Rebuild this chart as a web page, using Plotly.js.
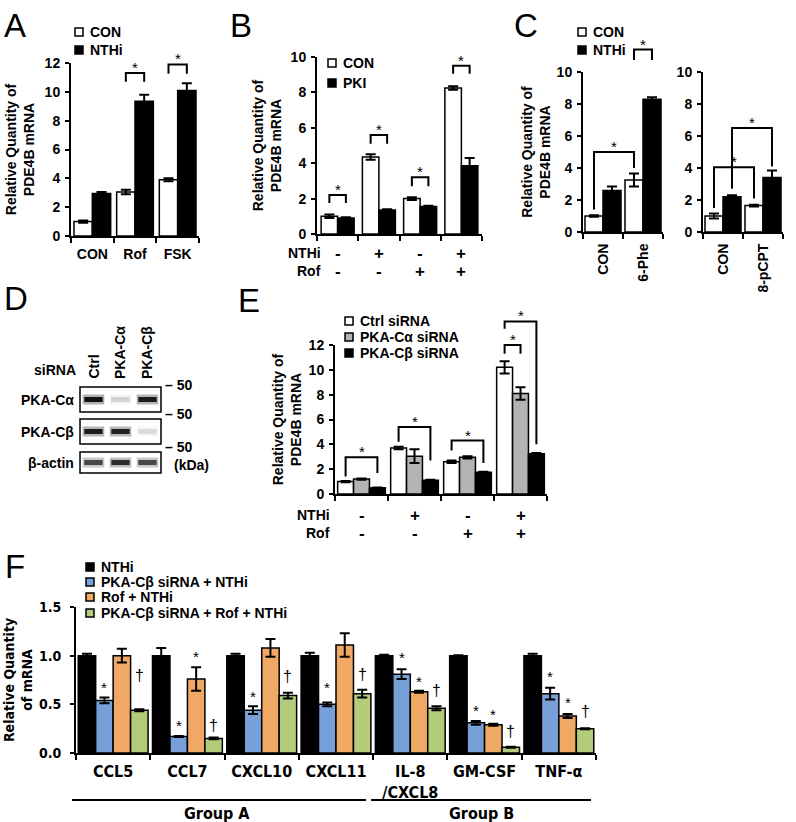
<!DOCTYPE html>
<html><head><meta charset="utf-8">
<script src="https://cdn.plot.ly/plotly-3.0.1.min.js"></script>
<style>html,body{margin:0;padding:0;background:#fff}#g{width:796px;height:822px}</style>
</head><body><div id="g"></div><script>
// ---------------- DATA ----------------
const A_cats = ['CON','Rof','FSK'];
const A_con = [1.0, 3.05, 3.9];
const A_con_err = [0.08, 0.15, 0.1];
const A_nthi = [2.95, 9.35, 10.1];
const A_nthi_err = [0.1, 0.45, 0.5];
// brackets: [cat0, bar0, leg0, cat1, bar1, leg1, top]
const A_brk = [[1,0,10.7,1,1,10.7,11.3],[2,0,11.25,2,1,11.25,11.9]];

const B_nthi = ['-','+','-','+'];
const B_rof = ['-','-','+','+'];
const B_con = [1.0, 4.35, 2.0, 8.25];
const B_con_err = [0.1, 0.15, 0.08, 0.1];
const B_pki = [0.9, 1.35, 1.55, 3.85];
const B_pki_err = [0.05, 0.05, 0.05, 0.45];
const B_brk = [[0,0,1.75,0,1,1.75,2.2],[1,0,5.1,1,1,5.1,5.6],[2,0,2.7,2,1,2.7,3.2],[3,0,9.05,3,1,9.05,9.5]];

const C1_cats = ['CON','6-Phe'];
const C1_con = [1.0, 3.25];
const C1_con_err = [0.05, 0.4];
const C1_nthi = [2.6, 8.3];
const C1_nthi_err = [0.25, 0.12];
const C1_brk = [[0,0,1.4,1,0,4.0,5.0],[1,0,10.75,1,1,10.75,11.4]];
const C2_cats = ['CON','8-pCPT'];
const C2_con = [1.0, 1.65];
const C2_con_err = [0.15, 0.05];
const C2_nthi = [2.2, 3.4];
const C2_nthi_err = [0.1, 0.45];
const C2_brk = [[0,0,1.5,1,0,2.1,4.05],[0,1,2.7,1,1,4.1,6.5]];

const E_nthi = ['-','+','-','+'];
const E_rof = ['-','-','+','+'];
const E_ctrl = [1.0, 3.7, 2.6, 10.2];
const E_ctrl_err = [0.05, 0.1, 0.1, 0.5];
const E_ca = [1.2, 3.05, 2.95, 8.1];
const E_ca_err = [0.05, 0.55, 0.1, 0.5];
const E_cb = [0.5, 1.1, 1.75, 3.25];
const E_cb_err = [0.03, 0.05, 0.05, 0.05];
const E_brk = [[0,0,1.4,0,2,1.7,2.96],[1,0,4.2,1,2,2.7,5.4],[2,0,3.5,2,2,2.5,4.3],[3,0,11.3,3,1,11.3,12.0],[3,0,13.3,3,2,4.0,13.9]];

const F_genes = ['CCL5','CCL7','CXCL10','CXCL11','IL-8<br>/CXCL8','GM-CSF','TNF-α'];
const F_nthi = [1.0, 1.0, 1.0, 1.0, 1.0, 1.0, 1.0];
const F_nthi_err = [0.02, 0.08, 0.02, 0.03, 0.01, 0.005, 0.02];
const F_cb = [0.54, 0.17, 0.44, 0.50, 0.81, 0.31, 0.61];
const F_cb_err = [0.03, 0.005, 0.04, 0.02, 0.05, 0.02, 0.06];
const F_rof = [1.0, 0.76, 1.08, 1.11, 0.63, 0.29, 0.38];
const F_rof_err = [0.07, 0.12, 0.09, 0.12, 0.01, 0.01, 0.02];
const F_cbrof = [0.44, 0.15, 0.59, 0.61, 0.46, 0.06, 0.25];
const F_cbrof_err = [0.01, 0.01, 0.03, 0.04, 0.02, 0.005, 0.005];
const F_star_cb = [0.71, 0.32, 0.62, 0.71, 1.02, 0.48, 0.83];
const F_star_rof = [null, 1.03, null, null, 0.78, 0.44, 0.56];
const F_dagger = [0.80, 0.28, 0.79, 0.81, 0.64, 0.22, 0.43];
const F_names = ['NTHi','PKA-Cβ siRNA + NTHi','Rof + NTHi','PKA-Cβ siRNA + Rof + NTHi'];
const F_colors = ['#000000','#78a0d8','#f0a865','#b3cc7a'];
const F_groups = ['Group A','Group B'];

const blot_lanes = ['Ctrl','PKA-Cα','PKA-Cβ'];
const blot_rows = ['PKA-Cα','PKA-Cβ','β-actin'];
const blot_int = [[1.0,0.15,0.95],[0.95,0.92,0.12],[0.72,0.85,0.72]];

// ---------------- LAYOUT HELPERS ----------------
const W=796, H=822;
const fx = p => p/W, fy = p => 1 - p/H;
const FONT = 'Liberation Sans, Arial, sans-serif';
const NARROW = 'Liberation Sans Narrow, DejaVu Sans Condensed, Arial Narrow, sans-serif';
const traces = [];
const layout = {width:W, height:H, margin:{l:0,r:0,t:0,b:0}, paper_bgcolor:'white', plot_bgcolor:'rgba(0,0,0,0)',
  barmode:'overlay', showlegend:false, font:{family:FONT, color:'black'}, annotations:[], shapes:[]};
const PANELS = {};

function axName(i){return i===1?'':String(i);}
function addPanel(i, c){
  PANELS[i]=c;
  const n=c.n, idx=[...Array(n).keys()], bounds=[...Array(n+1).keys()].map(k=>k-0.5);
  layout['xaxis'+axName(i)] = {domain:[fx(c.x[0]),fx(c.x[1])], range:[-0.5,n-0.5], anchor:'y'+axName(i),
    showline:true, linewidth:2, linecolor:'black', showgrid:false, zeroline:false, fixedrange:true,
    tickmode:'array', tickvals:idx, ticktext:c.labels||idx.map(()=>''), showticklabels:!!c.labels, ticks:'',
    tickangle:c.tickangle||0, ticklabelstandoff:c.xstand||0,
    tickfont:{family:c.xfont||FONT, size:c.xsize||14, weight:'bold', color:'black'},
    minor:{tickmode:'array', tickvals:bounds, ticks:'outside', ticklen:5, tickwidth:2, tickcolor:'black'}};
  const ya = {domain:[fy(c.y[1]),fy(c.y[0])], range:[0,c.ymax], anchor:'x'+axName(i),
    showline:true, linewidth:2, linecolor:'black', showgrid:false, zeroline:false, fixedrange:true,
    ticks:'outside', ticklen:4, tickwidth:2, tickcolor:'black', tick0:0, dtick:c.dtick, tickformat:c.tfmt||'',
    ticklabelstandoff:c.ystand||2, tickfont:{family:c.yfont||FONT, size:14, weight:'bold', color:'black'}};
  if(c.ytitle) ya.title = {text:c.ytitle, font:{family:c.yfont||FONT, size:14, weight:'bold', color:'black'}, standoff:c.tstand||8};
  layout['yaxis'+axName(i)] = ya;
}
// data -> pixel through the panel's own axis mapping
function pxX(i,v){const c=PANELS[i]; return c.x[0]+(v+0.5)/c.n*(c.x[1]-c.x[0]);}
function pxY(i,v){const c=PANELS[i]; return c.y[1]-v/c.ymax*(c.y[1]-c.y[0]);}
function barCenter(cat,k,ns,gap){const w=(1-gap)/ns; return cat-(1-gap)/2+w*(k+0.5);}
function addBars(i, series, gap){
  const ns=series.length, w=(1-gap)/ns;
  series.forEach((s,k)=>{
    traces.push({type:'bar', x:s.y.map((_,j)=>j), y:s.y, width:w, offset:-(1-gap)/2+w*k,
      xaxis:'x'+axName(i), yaxis:'y'+axName(i), name:s.name, hoverinfo:'skip',
      marker:{color:s.color, line:{color:'black', width:1.5}},
      error_y:{type:'data', array:s.err, visible:true, color:'black', thickness:2, width:5}});
  });
}
function addBrackets(i, brk, ns, gap){
  brk.forEach(b=>{
    const x0=pxX(i,barCenter(b[0],b[1],ns,gap)), x1=pxX(i,barCenter(b[3],b[4],ns,gap));
    const yl0=pxY(i,b[2]), yt=pxY(i,b[6]), yl1=pxY(i,b[5]);
    layout.shapes.push({type:'path', xref:'paper', yref:'paper',
      path:`M${fx(x0)},${fy(yl0)}L${fx(x0)},${fy(yt)}L${fx(x1)},${fy(yt)}L${fx(x1)},${fy(yl1)}`,
      line:{color:'black', width:2}});
    layout.annotations.push({xref:'paper', yref:'paper', x:fx((x0+x1)/2), y:fy(yt), text:'*',
      showarrow:false, xanchor:'center', yanchor:'bottom', yshift:-5, font:{size:15, color:'black'}});
  });
}
function addLegend(x, ys, names, fills, size){
  names.forEach((nm,k)=>{
    layout.shapes.push({type:'rect', xref:'paper', yref:'paper', x0:fx(x), x1:fx(x+8), y0:fy(ys[k]+4), y1:fy(ys[k]-4),
      fillcolor:fills[k], line:{color:'black', width:1.5}});
    layout.annotations.push({xref:'paper', yref:'paper', x:fx(x+13), y:fy(ys[k]), text:nm, showarrow:false,
      xanchor:'left', yanchor:'middle', font:{size:size||14, weight:'bold', color:'black'}});
  });
}
function addRows(i, labelX, rowYs, rowNames, rowVals){
  rowNames.forEach((nm,r)=>{
    layout.annotations.push({xref:'paper', yref:'paper', x:fx(labelX), y:fy(rowYs[r]), text:nm, showarrow:false,
      xanchor:'right', yanchor:'middle', font:{size:14, weight:'bold', color:'black'}});
    rowVals[r].forEach((v,j)=>layout.annotations.push({xref:'x'+axName(i), yref:'paper', x:j, y:fy(rowYs[r]),
      text:v, showarrow:false, xanchor:'center', yanchor:'middle', font:{size:17, weight:'bold', color:'black'}}));
  });
}
function letter(t,x,y){layout.annotations.push({xref:'paper', yref:'paper', x:fx(x), y:fy(y), text:t, showarrow:false,
  xanchor:'left', yanchor:'middle', font:{family:FONT, size:33, color:'black'}});}

const YT = 'Relative Quantity of<br>PDE4B mRNA';
// ---------------- PANEL A ----------------
addPanel(1,{x:[71,199], y:[63,236], n:3, ymax:12, dtick:2, labels:A_cats, xstand:4, ytitle:YT, tstand:7});
addBars(1,[{y:A_con,err:A_con_err,color:'white',name:'CON'},{y:A_nthi,err:A_nthi_err,color:'black',name:'NTHi'}],0.14);
addBrackets(1,A_brk,2,0.14);
addLegend(75,[32,50],['CON','NTHi'],['white','black']);
letter('A',2,25);
// ---------------- PANEL B ----------------
addPanel(2,{x:[317,482], y:[57,234], n:4, ymax:10, dtick:2, ytitle:YT, tstand:6});
addBars(2,[{y:B_con,err:B_con_err,color:'white',name:'CON'},{y:B_pki,err:B_pki_err,color:'black',name:'PKI'}],0.2);
addBrackets(2,B_brk,2,0.2);
addLegend(328,[63,83],['CON','PKI'],['white','black']);
addRows(2,323,[253,271],['NTHi','Rof'],[B_nthi,B_rof]);
letter('B',228,25);
// ---------------- PANEL C ----------------
addPanel(3,{x:[583,663], y:[72,232], n:2, ymax:10, dtick:2, labels:C1_cats, tickangle:-90, xstand:4, ytitle:YT, tstand:3});
addBars(3,[{y:C1_con,err:C1_con_err,color:'white',name:'CON'},{y:C1_nthi,err:C1_nthi_err,color:'black',name:'NTHi'}],0.1);
addBrackets(3,C1_brk,2,0.1);
addPanel(4,{x:[703,783], y:[72,232], n:2, ymax:10, dtick:2, labels:C2_cats, tickangle:-90, xstand:4});
addBars(4,[{y:C2_con,err:C2_con_err,color:'white',name:'CON'},{y:C2_nthi,err:C2_nthi_err,color:'black',name:'NTHi'}],0.1);
addBrackets(4,C2_brk,2,0.1);
addLegend(578,[32,50],['CON','NTHi'],['white','black']);
letter('C',512,25);
// ---------------- PANEL E ----------------
addPanel(5,{x:[335,547], y:[345,494], n:4, ymax:12, dtick:2, ytitle:YT, tstand:4});
addBars(5,[{y:E_ctrl,err:E_ctrl_err,color:'white',name:'Ctrl siRNA'},{y:E_ca,err:E_ca_err,color:'#b3b3b3',name:'PKA-Cα siRNA'},{y:E_cb,err:E_cb_err,color:'black',name:'PKA-Cβ siRNA'}],0.1);
addBrackets(5,E_brk,3,0.1);
addLegend(345,[321,337,353],['Ctrl siRNA','PKA-Cα siRNA','PKA-Cβ siRNA'],['white','#b3b3b3','black']);
addRows(5,332,[515,533],['NTHi','Rof'],[E_nthi,E_rof]);
letter('E',236,300);
// ---------------- PANEL F ----------------
addPanel(6,{x:[76,596], y:[607,753], n:7, ymax:1.5, dtick:0.5, tfmt:'.1f', labels:F_genes, xfont:NARROW, xsize:16, xstand:3,
  yfont:NARROW, ystand:6, ytitle:'Relative Quantity<br>of mRNA', tstand:3});
const Fser=[F_nthi,F_cb,F_rof,F_cbrof], Ferr=[F_nthi_err,F_cb_err,F_rof_err,F_cbrof_err];
addBars(6,Fser.map((s,k)=>({y:s,err:Ferr[k],color:F_colors[k],name:F_names[k]})),0.06);
[[F_star_cb,1,'*'],[F_star_rof,2,'*'],[F_dagger,3,'†']].forEach(([arr,k,sym])=>{
  arr.forEach((v,j)=>{ if(v===null) return;
    layout.annotations.push({xref:'x6', yref:'y6', x:barCenter(j,k,4,0.06), y:v, text:sym, showarrow:false,
      xanchor:'center', yanchor:'middle', yshift:sym==='*'?-4:0, font:{size:sym==='*'?15:16, color:'black'}});
  });
});
addLegend(86,[567,582,597,613],F_names,F_colors,14);
// group lines
[[72,366,217],[371,591,481]].forEach((g,k)=>{
  layout.shapes.push({type:'line', xref:'paper', yref:'paper', x0:fx(g[0]), x1:fx(g[1]), y0:fy(800), y1:fy(800), line:{color:'black', width:2}});
  layout.annotations.push({xref:'paper', yref:'paper', x:fx(g[2]), y:fy(813), text:F_groups[k], showarrow:false,
    xanchor:'center', yanchor:'middle', font:{family:NARROW, size:16, weight:'bold', color:'black'}});
});
letter('F',3,566);
// ---------------- PANEL D (blot) ----------------
const boxes=[[387,412],[419,444],[452,473]];
layout.xaxis7={domain:[fx(80),fx(161)], range:[0,3], visible:false, fixedrange:true, anchor:'y7'};
layout.yaxis7={domain:[fy(473),fy(387)], range:[473,387], visible:false, fixedrange:true, anchor:'x7'};
boxes.forEach((b,r)=>{
  layout.shapes.push({type:'rect', xref:'paper', yref:'paper', x0:fx(80), x1:fx(161), y0:fy(b[1]), y1:fy(b[0]), line:{color:'black', width:1.5}});
  const yc=(b[0]+b[1])/2;
  blot_int[r].forEach((v,j)=>{
    traces.push({type:'scatter', mode:'lines', x:[j+0.1,j+0.9], y:[yc,yc], xaxis:'x7', yaxis:'y7', hoverinfo:'skip',
      line:{color:`rgba(0,0,0,${(0.3*v).toFixed(3)})`, width:10}});
    traces.push({type:'scatter', mode:'lines', x:[j+0.16,j+0.84], y:[yc,yc], xaxis:'x7', yaxis:'y7', hoverinfo:'skip',
      line:{color:`rgba(0,0,0,${(0.9*v).toFixed(3)})`, width:5}});
  });
  layout.annotations.push({xref:'paper', yref:'paper', x:fx(76), y:fy(yc), text:blot_rows[r], showarrow:false,
    xanchor:'right', yanchor:'middle', font:{size:14, weight:'bold', color:'black'}});
});
blot_lanes.forEach((l,j)=>layout.annotations.push({xref:'x7', yref:'paper', x:j+0.5, y:fy(381), text:l, textangle:-90,
  showarrow:false, xanchor:'center', yanchor:'bottom', font:{size:14, weight:'bold', color:'black'}}));
layout.annotations.push({xref:'paper', yref:'paper', x:fx(78), y:fy(370), text:'siRNA', showarrow:false, xanchor:'right', yanchor:'middle', font:{size:14, weight:'bold', color:'black'}});
[385,414,447].forEach(y=>layout.annotations.push({xref:'paper', yref:'paper', x:fx(163), y:fy(y), text:'– 50', showarrow:false,
  xanchor:'left', yanchor:'middle', font:{size:14, weight:'bold', color:'black'}}));
layout.annotations.push({xref:'paper', yref:'paper', x:fx(172), y:fy(465), text:'(kDa)', showarrow:false, xanchor:'left', yanchor:'middle', font:{size:14, weight:'bold', color:'black'}});
letter('D',2,298);

Plotly.newPlot('g', traces, layout, {staticPlot:true, displayModeBar:false});
</script></body></html>
